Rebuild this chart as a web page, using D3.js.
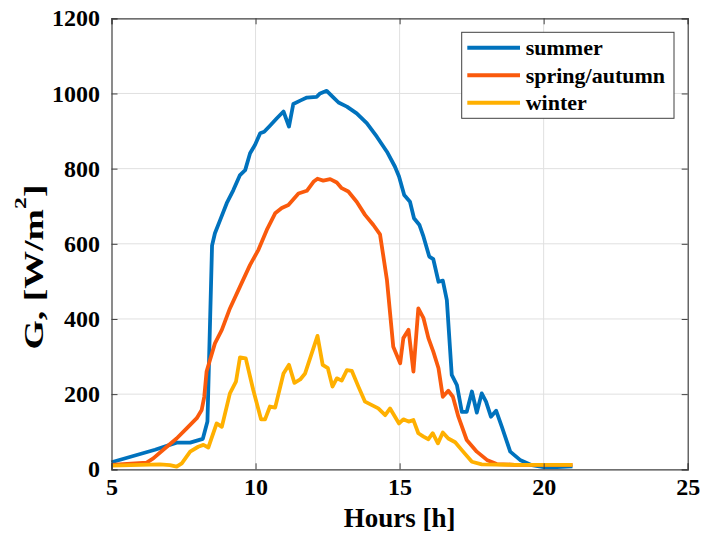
<!DOCTYPE html>
<html>
<head>
<meta charset="utf-8">
<script src="https://cdn.jsdelivr.net/npm/d3@7"></script>
<style>
  body { margin: 0; background: #fff; }
  svg { font-family: "Liberation Serif", "Times New Roman", serif; font-weight: bold; }
</style>
</head>
<body>
<svg id="chart"></svg>
<script>
// Data
const summerHours = [5.0, 5.06, 6.51, 7.26, 7.73, 8.17, 8.33, 8.49, 8.59, 8.77, 9.0, 9.23, 9.46, 9.64, 9.81, 9.98, 10.16, 10.3, 10.5, 10.74, 10.97, 11.16, 11.31, 11.55, 11.78, 12.12, 12.24, 12.47, 12.68, 12.88, 13.17, 13.51, 13.86, 14.21, 14.56, 14.84, 14.98, 15.16, 15.36, 15.5, 15.69, 15.83, 16.03, 16.17, 16.35, 16.5, 16.64, 16.81, 16.99, 17.16, 17.33, 17.51, 17.68, 17.85, 18.0, 18.17, 18.35, 18.55, 18.84, 19.18, 19.59, 20.0, 20.46, 21.0];
const summerG = [18, 20, 52, 71, 71, 81, 127, 595, 628, 663, 708, 743, 783, 796, 841, 863, 894, 898, 914, 934, 952, 912, 972, 981, 989, 991, 1000, 1007, 991, 976, 965, 947, 921, 885, 845, 805, 779, 730, 712, 668, 650, 619, 566, 559, 499, 502, 450, 251, 224, 153, 153, 207, 151, 202, 180, 140, 156, 113, 47, 25, 11, 6, 6, 8];

const springHours = [5.0, 6.22, 6.45, 6.92, 7.26, 7.61, 7.96, 8.13, 8.22, 8.3, 8.59, 8.83, 9.11, 9.46, 9.81, 10.1, 10.39, 10.68, 10.91, 11.14, 11.49, 11.78, 12.01, 12.15, 12.35, 12.59, 12.82, 12.99, 13.22, 13.51, 13.8, 14.09, 14.32, 14.42, 14.56, 14.78, 15.02, 15.13, 15.31, 15.48, 15.65, 15.83, 16.0, 16.17, 16.35, 16.5, 16.69, 16.85, 17.04, 17.33, 17.68, 18.03, 18.37, 19.0, 20.0, 21.0];
const springG = [12, 18, 29, 60, 82, 109, 136, 158, 193, 260, 335, 371, 428, 486, 544, 584, 637, 681, 695, 703, 734, 741, 765, 773, 768, 772, 763, 748, 739, 712, 677, 650, 625, 575, 504, 326, 282, 349, 371, 260, 428, 402, 349, 313, 269, 193, 209, 193, 140, 78, 47, 25, 14, 12, 12, 12];

const winterHours = [5.0, 6.68, 7.03, 7.26, 7.44, 7.73, 8.01, 8.19, 8.36, 8.65, 8.83, 9.11, 9.32, 9.46, 9.66, 9.92, 10.19, 10.33, 10.5, 10.68, 10.97, 11.16, 11.35, 11.55, 11.72, 12.15, 12.33, 12.51, 12.67, 12.82, 12.99, 13.17, 13.34, 13.57, 13.8, 14.26, 14.5, 14.67, 14.98, 15.13, 15.31, 15.48, 15.65, 15.83, 16.0, 16.15, 16.33, 16.5, 16.69, 16.93, 17.16, 17.51, 17.85, 19.0, 20.0, 21.0];
const winterG = [10, 13, 11, 7, 16, 47, 60, 65, 58, 122, 113, 202, 233, 298, 295, 211, 133, 133, 167, 164, 255, 278, 230, 239, 255, 355, 278, 269, 220, 242, 236, 264, 262, 220, 180, 162, 144, 162, 122, 133, 127, 131, 96, 87, 80, 96, 69, 98, 82, 72, 51, 20, 13, 12, 12, 12];

const seriesNames = ["summer", "spring/autumn", "winter"];
const seriesColors = ["#0072bd", "#fa5a0c", "#ffb000"];
const xTicks = [5, 10, 15, 20, 25];
const yTicks = [0, 200, 400, 600, 800, 1000, 1200];

const series = [
  { name: seriesNames[0], color: seriesColors[0], values: summerHours.map((h, i) => [h, summerG[i]]) },
  { name: seriesNames[1], color: seriesColors[1], values: springHours.map((h, i) => [h, springG[i]]) },
  { name: seriesNames[2], color: seriesColors[2], values: winterHours.map((h, i) => [h, winterG[i]]) }
];

// Chart Dimensions
const width = 702;
const height = 543;
const plot = { left: 111.5, right: 687.7, top: 18.3, bottom: 469.3 };

const svg = d3.select("#chart").attr("width", width).attr("height", height);

// Scales
const xScale = d3.scaleLinear().domain([5, 25]).range([plot.left, plot.right]);
const yScale = d3.scaleLinear().domain([0, 1200]).range([plot.bottom, plot.top]);

// Grid
svg.append("g")
  .selectAll("line")
  .data(xTicks.slice(1, -1))
  .join("line")
  .attr("x1", (d) => xScale(d)).attr("x2", (d) => xScale(d))
  .attr("y1", plot.top).attr("y2", plot.bottom)
  .attr("stroke", "#e0e0e0").attr("stroke-width", 1);

svg.append("g")
  .selectAll("line")
  .data(yTicks.slice(1, -1))
  .join("line")
  .attr("x1", plot.left).attr("x2", plot.right)
  .attr("y1", (d) => yScale(d)).attr("y2", (d) => yScale(d))
  .attr("stroke", "#e0e0e0").attr("stroke-width", 1);

// Lines
const line = d3.line()
  .x((d) => xScale(d[0]))
  .y((d) => yScale(d[1]));

svg.append("g")
  .selectAll("path")
  .data(series)
  .join("path")
  .attr("d", (d) => line(d.values))
  .attr("fill", "none")
  .attr("stroke", (d) => d.color)
  .attr("stroke-width", 3.8)
  .attr("stroke-linejoin", "round");

// Axes (MATLAB style, ticks inward on all sides)
const tickLen = 6;
const xAxis = d3.axisBottom(xScale).tickValues(xTicks).tickSize(-tickLen).tickPadding(9).tickFormat(d3.format("d"));
const yAxis = d3.axisLeft(yScale).tickValues(yTicks).tickSize(-tickLen).tickPadding(11.5).tickFormat(d3.format("d"));

const gx = svg.append("g")
  .attr("transform", `translate(0, ${plot.bottom})`)
  .call(xAxis);
const gy = svg.append("g")
  .attr("transform", `translate(${plot.left}, 0)`)
  .call(yAxis);
const gxTop = svg.append("g")
  .attr("transform", `translate(0, ${plot.top})`)
  .call(d3.axisTop(xScale).tickValues(xTicks).tickSize(-tickLen).tickFormat(""));
const gyRight = svg.append("g")
  .attr("transform", `translate(${plot.right}, 0)`)
  .call(d3.axisRight(yScale).tickValues(yTicks).tickSize(-tickLen).tickFormat(""));

[gx, gy, gxTop, gyRight].forEach((g) => {
  g.attr("font-family", null).attr("font-size", null);
  g.select(".domain").attr("stroke", "#404040").attr("stroke-width", 1.2);
  g.selectAll(".tick line").attr("stroke", "#404040");
  g.selectAll("text")
    .attr("font-size", 24)
    .attr("fill", "#000");
});

// Axis titles
svg.append("text")
  .attr("x", (plot.left + plot.right) / 2)
  .attr("y", 527)
  .attr("text-anchor", "middle")
  .attr("font-size", 27)
  .text("Hours [h]");

const yTitle = svg.append("text")
  .attr("transform", "translate(43, 267) rotate(-90) scale(1.4, 1)")
  .attr("text-anchor", "middle")
  .attr("font-size", 27);
yTitle.append("tspan").text("G, [W/m");
yTitle.append("tspan").attr("dy", -17).attr("font-size", 17).text("2");
yTitle.append("tspan").attr("dy", 17).text("]");

// Legend
const legend = svg.append("g");
legend.append("rect")
  .attr("x", 461.7).attr("y", 32.3)
  .attr("width", 212.3).attr("height", 86)
  .attr("fill", "#fff")
  .attr("stroke", "#404040").attr("stroke-width", 1);

const legendItems = legend.selectAll(".legend-item")
  .data(series)
  .join("g")
  .attr("class", "legend-item")
  .attr("transform", (d, i) => `translate(0, ${47.7 + i * 27.5})`);

legendItems.append("line")
  .attr("x1", 467.3).attr("x2", 520)
  .attr("stroke", (d) => d.color)
  .attr("stroke-width", 4);

legendItems.append("text")
  .attr("x", 525.7)
  .attr("y", 7.5)
  .attr("font-size", 22)
  .text((d) => d.name);
</script>
</body>
</html>
